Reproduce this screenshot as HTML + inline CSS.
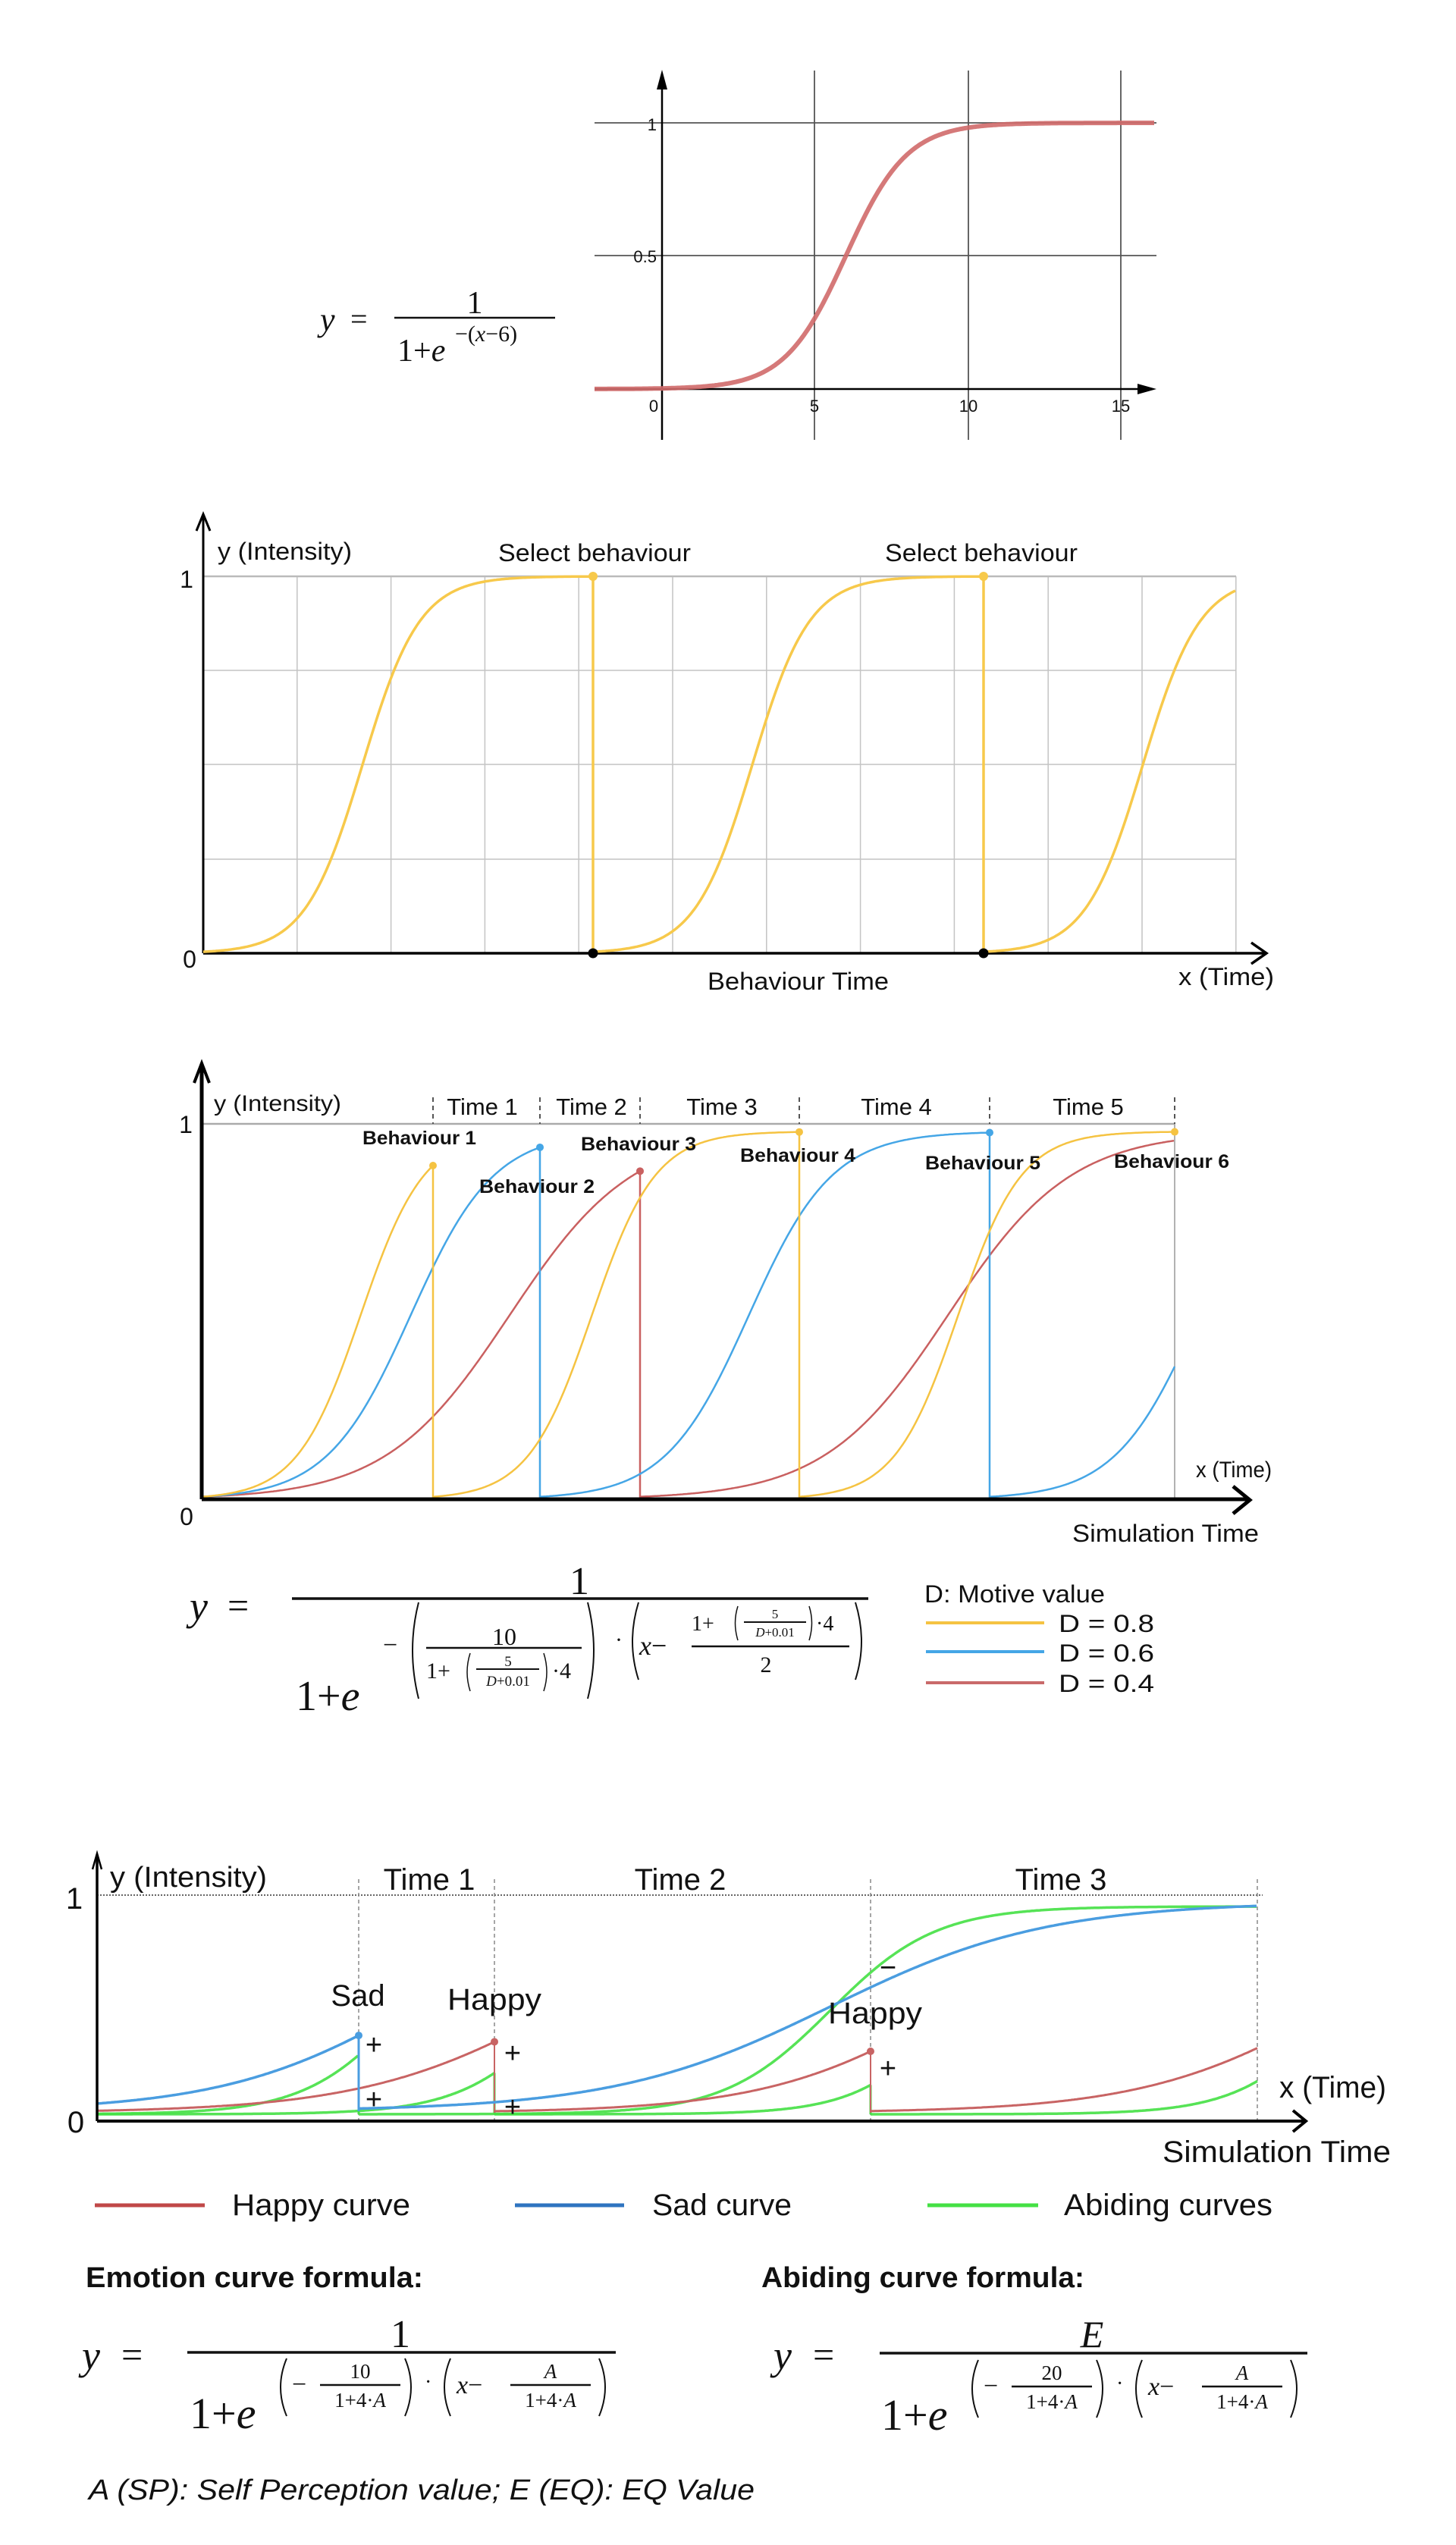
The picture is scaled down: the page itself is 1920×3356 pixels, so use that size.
<!DOCTYPE html>
<html><head><meta charset="utf-8">
<style>
html,body{margin:0;padding:0;background:#fff;}
svg{display:block;}
.s{font-family:"Liberation Sans",sans-serif;fill:#111;}
.m{font-family:"Liberation Serif",serif;fill:#111;}
.i{font-style:italic;}
</style></head><body>
<svg id="c" width="1920" height="3356" viewBox="0 0 1920 3356" xmlns="http://www.w3.org/2000/svg">
<rect width="1920" height="3356" fill="#fff"/>

<!-- ===== Panel 1 ===== -->
<g stroke="#000" stroke-width="1.2">
<line x1="1074" y1="93" x2="1074" y2="580"/>
<line x1="1277" y1="93" x2="1277" y2="580"/>
<line x1="1478" y1="93" x2="1478" y2="580"/>
</g>
<g stroke="#555" stroke-width="1.8">
<line x1="784" y1="162" x2="1525" y2="162"/>
<line x1="784" y1="337" x2="1525" y2="337"/>
</g>
<line x1="873" y1="110" x2="873" y2="580" stroke="#000" stroke-width="2.5"/>
<polygon points="873,92 866,118 880,118" fill="#000"/>
<line x1="784" y1="513" x2="1505" y2="513" stroke="#000" stroke-width="2.5"/>
<polygon points="1525,513 1500,506 1500,520" fill="#000"/>
<g class="s" font-size="22" fill="#222">
<text x="866" y="172" text-anchor="end">1</text>
<text x="866" y="346" text-anchor="end">0.5</text>
<text x="862" y="543" text-anchor="middle">0</text>
<text x="1074" y="543" text-anchor="middle">5</text>
<text x="1277" y="543" text-anchor="middle">10</text>
<text x="1478" y="543" text-anchor="middle">15</text>
</g>
<g class="m">
<text x="422" y="436" font-size="44" class="m i">y</text>
<text x="462" y="434" font-size="40">=</text>
<line x1="520" y1="419" x2="732" y2="419" stroke="#111" stroke-width="2.5"/>
<text x="626" y="413" font-size="42" text-anchor="middle">1</text>
<text x="524" y="476" font-size="42">1+<tspan class="i">e</tspan></text>
<text x="600" y="450" font-size="30">−(<tspan class="i">x</tspan>−6)</text>
</g>

<!-- ===== Panel 2 ===== -->
<g id="g2grid" stroke="#c4c4c4" stroke-width="1.5"></g>
<line x1="268" y1="760" x2="1630" y2="760" stroke="#bbb" stroke-width="2.5"/>
<line x1="268" y1="1257" x2="268" y2="680" stroke="#000" stroke-width="3"/>
<polyline points="259,700 268,678 277,700" fill="none" stroke="#000" stroke-width="3"/>
<line x1="268" y1="1257" x2="1668" y2="1257" stroke="#000" stroke-width="3.5"/>
<polyline points="1650,1243 1670,1257 1650,1271" fill="none" stroke="#000" stroke-width="3.5"/>
<g class="s" font-size="32">
<text x="287" y="738" textLength="177" lengthAdjust="spacingAndGlyphs">y (Intensity)</text>
<text x="246" y="775" text-anchor="middle">1</text>
<text x="250" y="1276" text-anchor="middle">0</text>
<text x="657" y="740" textLength="254" lengthAdjust="spacingAndGlyphs">Select behaviour</text>
<text x="1167" y="740" textLength="254" lengthAdjust="spacingAndGlyphs">Select behaviour</text>
<text x="933" y="1305" textLength="239" lengthAdjust="spacingAndGlyphs">Behaviour Time</text>
<text x="1554" y="1299" textLength="126" lengthAdjust="spacingAndGlyphs">x (Time)</text>
</g>
<g id="g2"></g>

<!-- ===== Panel 3 ===== -->
<line x1="266" y1="1482" x2="1549" y2="1482" stroke="#aaa" stroke-width="2.5"/>
<g stroke="#555" stroke-width="2" stroke-dasharray="6 5">
<line x1="571" y1="1447" x2="571" y2="1482"/><line x1="712" y1="1447" x2="712" y2="1482"/>
<line x1="844" y1="1447" x2="844" y2="1482"/><line x1="1054" y1="1447" x2="1054" y2="1482"/>
<line x1="1305" y1="1447" x2="1305" y2="1482"/><line x1="1549" y1="1447" x2="1549" y2="1482"/>
</g>
<line x1="1549" y1="1482" x2="1549" y2="1977" stroke="#999" stroke-width="1.5"/>
<g id="g3"></g>
<line x1="266" y1="1977" x2="266" y2="1405" stroke="#000" stroke-width="5"/>
<polyline points="256,1428 266,1402 276,1428" fill="none" stroke="#000" stroke-width="4"/>
<line x1="266" y1="1977" x2="1645" y2="1977" stroke="#000" stroke-width="5"/>
<polyline points="1626,1960 1648,1978 1626,1996" fill="none" stroke="#000" stroke-width="5"/>
<g class="s" font-size="30">
<text x="282" y="1465" textLength="168" lengthAdjust="spacingAndGlyphs">y (Intensity)</text>
<text x="245" y="1494" text-anchor="middle" font-size="32">1</text>
<text x="246" y="2011" text-anchor="middle" font-size="32">0</text>
<text x="636" y="1470" text-anchor="middle" font-size="31">Time 1</text>
<text x="780" y="1470" text-anchor="middle" font-size="31">Time 2</text>
<text x="952" y="1470" text-anchor="middle" font-size="31">Time 3</text>
<text x="1182" y="1470" text-anchor="middle" font-size="31">Time 4</text>
<text x="1435" y="1470" text-anchor="middle" font-size="31">Time 5</text>
<text x="1577" y="1948" textLength="100" lengthAdjust="spacingAndGlyphs">x (Time)</text>
<text x="1414" y="2033" textLength="246" lengthAdjust="spacingAndGlyphs" font-size="32">Simulation Time</text>
</g>
<g class="s" font-size="25" fill="#222" style="font-weight:600">
<text x="478" y="1509" textLength="150" lengthAdjust="spacingAndGlyphs">Behaviour 1</text>
<text x="632" y="1573" textLength="152" lengthAdjust="spacingAndGlyphs">Behaviour 2</text>
<text x="766" y="1517" textLength="152" lengthAdjust="spacingAndGlyphs">Behaviour 3</text>
<text x="976" y="1532" textLength="152" lengthAdjust="spacingAndGlyphs">Behaviour 4</text>
<text x="1220" y="1542" textLength="152" lengthAdjust="spacingAndGlyphs">Behaviour 5</text>
<text x="1469" y="1540" textLength="152" lengthAdjust="spacingAndGlyphs">Behaviour 6</text>
</g>

<!-- Formula 3 -->
<g class="m" stroke-width="2" >
<text x="250" y="2136" font-size="54" class="m i">y</text>
<text x="300" y="2134" font-size="50">=</text>
<line x1="385" y1="2108" x2="1145" y2="2108" stroke="#111" stroke-width="3.5"/>
<text x="764" y="2102" font-size="52" text-anchor="middle">1</text>
<text x="390" y="2255" font-size="56">1+<tspan class="i">e</tspan></text>
<text x="505" y="2180" font-size="34">−</text>
<path d="M552 2113 Q536 2176 552 2240" fill="none" stroke="#111"/>
<text x="665" y="2169" font-size="32" text-anchor="middle">10</text>
<line x1="562" y1="2173" x2="767" y2="2173" stroke="#111" stroke-width="2.5"/>
<text x="562" y="2213" font-size="30">1+</text>
<path d="M620 2180 Q612 2205 620 2230" fill="none" stroke="#111" stroke-width="1.5"/>
<text x="670" y="2197" font-size="19" text-anchor="middle">5</text>
<line x1="628" y1="2201" x2="711" y2="2201" stroke="#111" stroke-width="2"/>
<text x="670" y="2223" font-size="19" text-anchor="middle"><tspan class="i">D</tspan>+0.01</text>
<path d="M717 2180 Q725 2205 717 2230" fill="none" stroke="#111" stroke-width="1.5"/>
<text x="728" y="2213" font-size="30">·4</text>
<path d="M775 2113 Q791 2176 775 2240" fill="none" stroke="#111"/>
<text x="811" y="2172" font-size="30">·</text>
<path d="M842 2113 Q826 2165 842 2215" fill="none" stroke="#111"/>
<text x="843" y="2182" font-size="36"><tspan class="i">x</tspan>−</text>
<text x="912" y="2150" font-size="28">1+</text>
<path d="M973 2118 Q966 2140 973 2163" fill="none" stroke="#111" stroke-width="1.5"/>
<text x="1022" y="2134" font-size="17" text-anchor="middle">5</text>
<line x1="981" y1="2139" x2="1063" y2="2139" stroke="#111" stroke-width="2"/>
<text x="1022" y="2158" font-size="17" text-anchor="middle"><tspan class="i">D</tspan>+0.01</text>
<path d="M1067 2118 Q1074 2140 1067 2163" fill="none" stroke="#111" stroke-width="1.5"/>
<text x="1076" y="2150" font-size="28">·4</text>
<line x1="912" y1="2171" x2="1120" y2="2171" stroke="#111" stroke-width="2.5"/>
<text x="1010" y="2205" font-size="30" text-anchor="middle">2</text>
<path d="M1128 2113 Q1144 2165 1128 2215" fill="none" stroke="#111"/>
</g>
<g class="s" font-size="32">
<text x="1219" y="2113" textLength="238" lengthAdjust="spacingAndGlyphs">D: Motive value</text>
<text x="1396" y="2152" textLength="126" lengthAdjust="spacingAndGlyphs">D = 0.8</text>
<text x="1396" y="2191" textLength="126" lengthAdjust="spacingAndGlyphs">D = 0.6</text>
<text x="1396" y="2231" textLength="126" lengthAdjust="spacingAndGlyphs">D = 0.4</text>
</g>
<line x1="1221" y1="2140" x2="1377" y2="2140" stroke="#f5c342" stroke-width="4"/>
<line x1="1221" y1="2178" x2="1377" y2="2178" stroke="#45a6e6" stroke-width="4"/>
<line x1="1221" y1="2219" x2="1377" y2="2219" stroke="#c96a6a" stroke-width="4"/>

<!-- ===== Panel 4 ===== -->
<line x1="128" y1="2499" x2="1665" y2="2499" stroke="#666" stroke-width="2" stroke-dasharray="2 2"/>
<g stroke="#888" stroke-width="1.5" stroke-dasharray="5 4">
<line x1="473" y1="2478" x2="473" y2="2797"/><line x1="652" y1="2478" x2="652" y2="2797"/>
<line x1="1148" y1="2478" x2="1148" y2="2797"/><line x1="1658" y1="2478" x2="1658" y2="2797"/>
</g>
<g id="g4"></g>
<line x1="128" y1="2797" x2="128" y2="2446" stroke="#000" stroke-width="3.5"/>
<polyline points="122,2465 128,2444 134,2465" fill="none" stroke="#000" stroke-width="2.5"/>
<line x1="128" y1="2797" x2="1720" y2="2797" stroke="#000" stroke-width="4"/>
<polyline points="1705,2783 1722,2797 1705,2811" fill="none" stroke="#000" stroke-width="4"/>
<g class="s" font-size="40">
<text x="145" y="2488" textLength="207" lengthAdjust="spacingAndGlyphs" font-size="38">y (Intensity)</text>
<text x="98" y="2517" text-anchor="middle">1</text>
<text x="100" y="2812" text-anchor="middle">0</text>
<text x="566" y="2492" text-anchor="middle">Time 1</text>
<text x="897" y="2492" text-anchor="middle">Time 2</text>
<text x="1399" y="2492" text-anchor="middle">Time 3</text>
<text x="472" y="2645" text-anchor="middle">Sad</text>
<text x="590" y="2650" textLength="124" lengthAdjust="spacingAndGlyphs">Happy</text>
<text x="1092" y="2668" textLength="124" lengthAdjust="spacingAndGlyphs">Happy</text>
<text x="1687" y="2766" textLength="141" lengthAdjust="spacingAndGlyphs">x (Time)</text>
<text x="1533" y="2851" textLength="301" lengthAdjust="spacingAndGlyphs">Simulation Time</text>
<text x="306" y="2921" textLength="235" lengthAdjust="spacingAndGlyphs">Happy curve</text>
<text x="860" y="2921" textLength="184" lengthAdjust="spacingAndGlyphs">Sad curve</text>
<text x="1403" y="2921" textLength="275" lengthAdjust="spacingAndGlyphs">Abiding curves</text>
</g>
<g class="s" font-size="38" text-anchor="middle">
<text x="493" y="2709">+</text><text x="493" y="2781">+</text>
<text x="676" y="2720">+</text><text x="676" y="2791">+</text>
<text x="1171" y="2740">+</text><text x="1171" y="2607">−</text>
</g>
<line x1="125" y1="2908" x2="270" y2="2908" stroke="#c04848" stroke-width="5"/>
<line x1="679" y1="2908" x2="823" y2="2908" stroke="#2f74c0" stroke-width="5"/>
<line x1="1223" y1="2908" x2="1369" y2="2908" stroke="#44e044" stroke-width="5"/>

<!-- Bottom formulas -->
<g class="s" font-size="38" fill="#111">
<text x="113" y="3016" textLength="445" lengthAdjust="spacingAndGlyphs" style="font-weight:600">Emotion curve formula:</text>
<text x="1004" y="3016" textLength="426" lengthAdjust="spacingAndGlyphs" style="font-weight:600">Abiding curve formula:</text>
</g>
<g class="m">
<text x="108" y="3124" font-size="54" class="m i">y</text>
<text x="160" y="3122" font-size="50">=</text>
<line x1="247" y1="3102" x2="812" y2="3102" stroke="#111" stroke-width="3.5"/>
<text x="528" y="3095" font-size="52" text-anchor="middle">1</text>
<g id="den">
<text x="250" y="3202" font-size="58">1+<tspan class="i">e</tspan></text>
<path d="M378 3110 Q362 3148 378 3186" fill="none" stroke="#111" stroke-width="2"/>
<text x="385" y="3155" font-size="34">−</text>
<text x="475" y="3136" font-size="27" text-anchor="middle">10</text>
<line x1="422" y1="3145" x2="528" y2="3145" stroke="#111" stroke-width="2.5"/>
<text x="475" y="3174" font-size="27" text-anchor="middle">1+4·<tspan class="i">A</tspan></text>
<path d="M534 3110 Q550 3148 534 3186" fill="none" stroke="#111" stroke-width="2"/>
<text x="560" y="3150" font-size="28">·</text>
<path d="M594 3110 Q578 3148 594 3186" fill="none" stroke="#111" stroke-width="2"/>
<text x="602" y="3156" font-size="34"><tspan class="i">x</tspan>−</text>
<text x="726" y="3136" font-size="27" text-anchor="middle" class="m i">A</text>
<line x1="673" y1="3145" x2="779" y2="3145" stroke="#111" stroke-width="2.5"/>
<text x="726" y="3174" font-size="27" text-anchor="middle">1+4·<tspan class="i">A</tspan></text>
<path d="M790 3110 Q806 3148 790 3186" fill="none" stroke="#111" stroke-width="2"/>
</g>

<text x="1020" y="3124" font-size="54" class="m i">y</text>
<text x="1072" y="3122" font-size="50">=</text>
<line x1="1160" y1="3103" x2="1724" y2="3103" stroke="#111" stroke-width="3.5"/>
<text x="1440" y="3095" font-size="50" text-anchor="middle" class="m i">E</text>
<g transform="translate(912,2)">
<text x="250" y="3202" font-size="58">1+<tspan class="i">e</tspan></text>
<path d="M378 3110 Q362 3148 378 3186" fill="none" stroke="#111" stroke-width="2"/>
<text x="385" y="3155" font-size="34">−</text>
<text x="475" y="3136" font-size="27" text-anchor="middle">20</text>
<line x1="422" y1="3145" x2="528" y2="3145" stroke="#111" stroke-width="2.5"/>
<text x="475" y="3174" font-size="27" text-anchor="middle">1+4·<tspan class="i">A</tspan></text>
<path d="M534 3110 Q550 3148 534 3186" fill="none" stroke="#111" stroke-width="2"/>
<text x="560" y="3150" font-size="28">·</text>
<path d="M594 3110 Q578 3148 594 3186" fill="none" stroke="#111" stroke-width="2"/>
<text x="602" y="3156" font-size="34"><tspan class="i">x</tspan>−</text>
<text x="726" y="3136" font-size="27" text-anchor="middle" class="m i">A</text>
<line x1="673" y1="3145" x2="779" y2="3145" stroke="#111" stroke-width="2.5"/>
<text x="726" y="3174" font-size="27" text-anchor="middle">1+4·<tspan class="i">A</tspan></text>
<path d="M790 3110 Q806 3148 790 3186" fill="none" stroke="#111" stroke-width="2"/>
</g>
</g>
<text x="117" y="3296" class="s" font-size="38" font-style="italic" textLength="878" lengthAdjust="spacingAndGlyphs">A (SP): Self Perception value; E (EQ): EQ Value</text>

<path id="p1" fill="none" stroke="#d06a6a" stroke-opacity="0.9" stroke-width="6"/>
</svg>
<script>
(function(){
var NS="http://www.w3.org/2000/svg";
function sg(v){return 1/(1+Math.exp(-v));}
function path(parent,x0,x1,f,color,w,op){
  var d="";for(var x=x0;x<=x1+0.001;x+=2){var xx=Math.min(x,x1);d+=(d?"L":"M")+xx.toFixed(1)+" "+f(xx).toFixed(1);}
  var p=document.createElementNS(NS,"path");p.setAttribute("d",d);p.setAttribute("fill","none");
  p.setAttribute("stroke",color);p.setAttribute("stroke-width",w);if(op)p.setAttribute("stroke-opacity",op);
  parent.appendChild(p);return p;}
function line(parent,x1,y1,x2,y2,c,w){var l=document.createElementNS(NS,"line");
  l.setAttribute("x1",x1);l.setAttribute("y1",y1);l.setAttribute("x2",x2);l.setAttribute("y2",y2);
  l.setAttribute("stroke",c);l.setAttribute("stroke-width",w);parent.appendChild(l);}
function dot(parent,x,y,r,c){var e=document.createElementNS(NS,"circle");e.setAttribute("cx",x);e.setAttribute("cy",y);e.setAttribute("r",r);e.setAttribute("fill",c);parent.appendChild(e);}
var p1=document.getElementById("p1");
var d="";for(var x=784;x<=1523;x+=2){var u=(x-873)/40.4;var y=513-351*sg(u-6);d+=(d?"L":"M")+x+" "+y.toFixed(1);}
p1.setAttribute("d",d);
var gg=document.getElementById("g2grid");
for(var k=1;k<=11;k++){var gx=268+123.8*k;line(gg,gx,760,gx,1257,"#c4c4c4",1.5);}
[884,1008,1133].forEach(function(y){line(gg,268,y,1630,y,"#c4c4c4",1.5);});
var g2=document.getElementById("g2");var Y="#f7c94b";
var segs=[[268,782],[782,1297],[1297,1630]];
segs.forEach(function(s){var c=s[0]+210;path(g2,s[0],s[1],function(x){return 1257-497*sg(0.02647*(x-c));},Y,3.5);});
line(g2,782,760,782,1257,Y,3.5);line(g2,1297,760,1297,1257,Y,3.5);
dot(g2,782,760,6,Y);dot(g2,1297,760,6,Y);dot(g2,782,1257,6.5,"#000");dot(g2,1297,1257,6.5,"#000");
var g3=document.getElementById("g3");
var cols={y:"#f5c342",b:"#45a6e6",r:"#c96060"};
var par={y:[12.85,0.389],b:[16.9,0.296],r:[24.9,0.2]};
function seg3(t,a,b,end){var c=par[t][0],s=par[t][1];
  var f=function(x){return 1977-485*sg(s*((x-a)/16.3-c));};
  path(g3,a,b,f,cols[t],2.5);
  if(end){line(g3,b,f(b),b,1977,cols[t],2.5);dot(g3,b,f(b),5,cols[t]);}}
seg3("r",266,844,true);seg3("r",844,1549,false);
seg3("b",266,712,true);seg3("b",712,1305,true);seg3("b",1305,1549,false);
seg3("y",266,571,true);seg3("y",571,1054,true);seg3("y",1054,1549,false);
(function(){var f=function(x){return 1977-485*sg(0.389*((x-1054)/16.3-12.85));};dot(g3,1549,f(1549),5,cols.y);})();
var g4=document.getElementById("g4");
var R="#c86464",B="#4a9de0",G="#44e044";
function em(base,H,k,c){return function(x){return base-H*sg(k*(x-c));};}
var gs=[[128,473,em(2788,283,0.0151,537)],[128,652,em(2788,283,0.0151,747)],[473,1658,em(2788,274,0.0144,1095)],[652,1148,em(2788,283,0.0162,1262)],[1148,1658,em(2788,283,0.0156,1767)]];
gs.forEach(function(s){path(g4,s[0],s[1],s[2],G,3.5,0.9);});
line(g4,473,gs[0][2](473),473,2788,G,3);line(g4,652,gs[1][2](652),652,2788,G,3);line(g4,1148,gs[3][2](1148),1148,2788,G,3);
var r1=em(2786,285,0.00754,747),r2=em(2786,285,0.0081,1262),r3=em(2786,285,0.0078,1767);
path(g4,128,652,r1,R,3);path(g4,652,1148,r2,R,3);path(g4,1148,1658,r3,R,3);
line(g4,652,r1(652),652,2786,R,2);line(g4,1148,r2(1148),1148,2786,R,2);
dot(g4,652,r1(652),5,R);dot(g4,1148,r2(1148),5,R);
var b1=em(2784,285,0.0078,552),b2=em(2784,276,0.0070,1095);
path(g4,128,473,b1,B,3.5);path(g4,473,1658,b2,B,3.5);
line(g4,473,b1(473),473,2784,B,3);dot(g4,473,b1(473),5,B);
})();
</script>
</body></html>
